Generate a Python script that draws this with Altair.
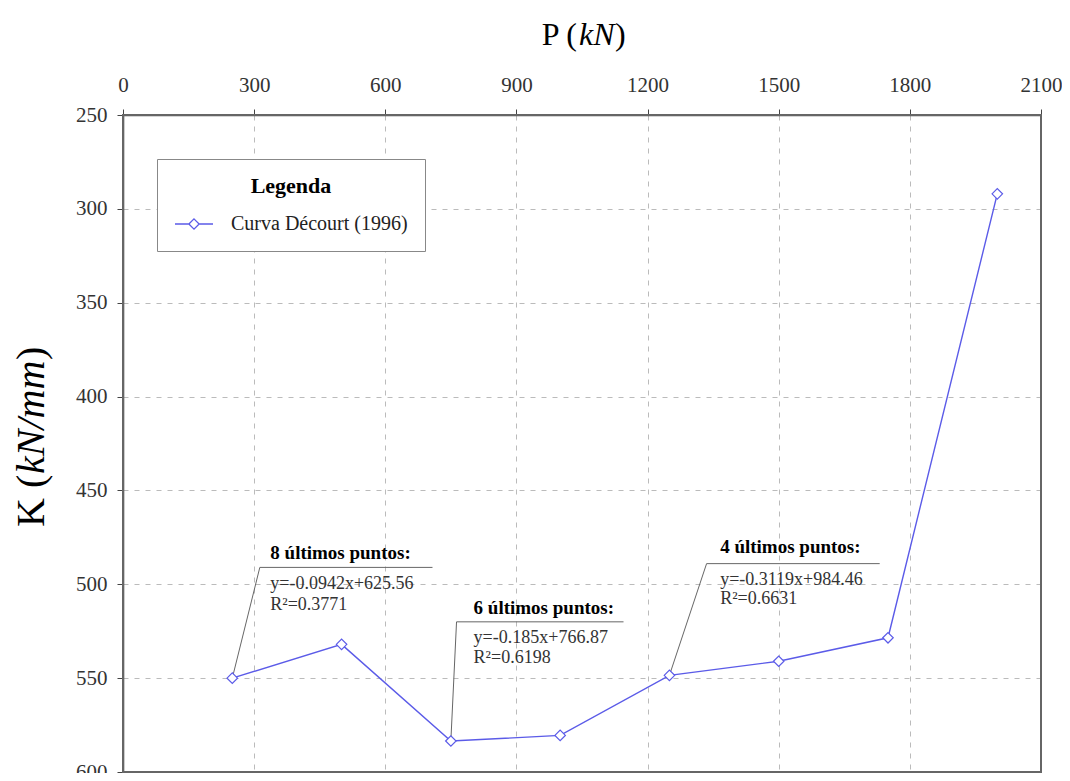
import altair as alt
import pandas as pd

# ---- data ----
P = [250, 500, 750, 1000, 1250, 1500, 1750, 2000]
K = [550, 532, 583.5, 580.5, 548.5, 541, 528.5, 292]
SERIES = "Curva Décourt (1996)"

x_ticks = [0, 300, 600, 900, 1200, 1500, 1800, 2100]
y_ticks = [250, 300, 350, 400, 450, 500, 550, 600]

# callouts (regression notes)
c_title = ["8 últimos puntos:", "6 últimos puntos:", "4 últimos puntos:"]
c_eq = ["y=-0.0942x+625.56", "y=-0.185x+766.87", "y=-0.3119x+984.46"]
c_r2 = ["R²=0.3771", "R²=0.6198", "R²=0.6631"]
c_anchor_idx = [0, 2, 4]
c_corner_x = [313, 763, 1335]
c_corner_y = [491, 520, 489]
c_end_x = [708, 1145, 1731]
c_text_x = [337, 802, 1366]
c_title_y = [483.3, 512.6, 480.0]
c_eq_y = [500.1, 528.5, 497.5]
c_r2_y = [510.8, 539.2, 508.0]

FONT = "Liberation Serif"
W, H = 918, 657

df = pd.DataFrame({"P": P, "K": K, "serie": [SERIES] * len(P)})

leaders = pd.DataFrame({
    "x": c_corner_x,
    "y": c_corner_y,
    "x2": [P[i] for i in c_anchor_idx],
    "y2": [K[i] for i in c_anchor_idx],
})
unders = pd.DataFrame({"x": c_corner_x, "y": c_corner_y, "x2": c_end_x, "y2": c_corner_y})
titles = pd.DataFrame({"x": c_text_x, "y": c_title_y, "t": c_title})
eqs = pd.DataFrame({
    "x": c_text_x * 2,
    "y": c_eq_y + c_r2_y,
    "t": c_eq + c_r2,
})

axis_common = dict(
    title=None, labelFlush=False, labelOverlap=False, format="d",
    domainColor="#555", domainWidth=1.6, tickColor="#444", tickSize=6,
    labelFont=FONT, labelFontSize=21, labelColor="#333",
    grid=True, gridColor="#bbb", gridDash=[5, 6], gridWidth=1,
)
xs = alt.Scale(domain=[0, 2100], nice=False, zero=False)
ys = alt.Scale(domain=[250, 600], nice=False, zero=False, reverse=True)
xa = alt.Axis(orient="top", values=x_ticks, labelPadding=14, **axis_common)
ya = alt.Axis(orient="left", values=y_ticks, labelPadding=10, **axis_common)


def X(f):
    return alt.X(f, type="quantitative", scale=xs, axis=xa)


def Y(f):
    return alt.Y(f, type="quantitative", scale=ys, axis=ya)


legend_symbol = ("M-1,0L-0.27,0M0.27,0L1,0"
                 "M0,-0.27L0.27,0L0,0.27L-0.27,0Z")

line = alt.Chart(df).mark_line(
    strokeWidth=1.4,
    point=alt.OverlayMarkDef(shape="diamond", filled=False, fill="white",
                             size=110, strokeWidth=1.2),
).encode(
    x=X("P"),
    y=Y("K"),
    color=alt.Color(
        "serie:N",
        scale=alt.Scale(domain=[SERIES], range=["#5b5be8"]),
        legend=alt.Legend(
            title="Legenda", orient="none", legendX=34, legendY=44,
            titleFont=FONT, titleFontSize=22, titleFontWeight="bold",
            titleColor="black", titleAnchor="middle", titlePadding=6,
            labelFont=FONT, labelFontSize=20, labelColor="#222",
            labelLimit=400, labelOffset=17,
            symbolType=legend_symbol, symbolSize=1444,
            symbolStrokeWidth=1.3, symbolFillColor="white",
            strokeColor="#888", fillColor="white", padding=17,
        ),
    ),
)

leader_rules = alt.Chart(leaders).mark_rule(color="#666", strokeWidth=1).encode(
    x=X("x"), y=Y("y"), x2="x2", y2="y2")
under_rules = alt.Chart(unders).mark_rule(color="#666", strokeWidth=1).encode(
    x=X("x"), y=Y("y"), x2="x2", y2="y2")

title_text = alt.Chart(titles).mark_text(
    font=FONT, fontSize=19, fontWeight="bold", color="black",
    align="left", baseline="middle").encode(x=X("x"), y=Y("y"), text="t:N")
eq_text = alt.Chart(eqs).mark_text(
    font=FONT, fontSize=18, color="#333",
    align="left", baseline="middle").encode(x=X("x"), y=Y("y"), text="t:N")

one = pd.DataFrame({"a": [0]})

# plot frame (right and bottom edges like the reference)
frame = alt.Chart(one).mark_rect(filled=False, stroke="#666", strokeWidth=2).encode(
    x=alt.value(0), x2=alt.value(W), y=alt.value(0), y2=alt.value(H))


def label(txt, x, y, size, italic=False, angle=0, align="left"):
    kw = dict(font=FONT, fontSize=size, color="black", align=align,
              baseline="middle", angle=angle)
    if italic:
        kw["fontStyle"] = "italic"
    return alt.Chart(one).mark_text(**kw).encode(
        x=alt.value(x), y=alt.value(y), text=alt.value(txt))


# axis titles with italic units
px_title = [
    label("P (", 454, -80, 32, align="right"),
    label("kN", 456, -80, 32, italic=True),
    label(")", 492, -80, 32),
]
ky_title = [
    label("K (", -91, 412, 40, angle=270),
    label("kN/mm", -91, 359, 40, italic=True, angle=270),
    label(")", -91, 245, 40, angle=270),
]

chart = alt.layer(
    frame, leader_rules, under_rules, line, title_text, eq_text,
    *px_title, *ky_title
).properties(
    width=W, height=H,
    padding={"left": 115, "top": 107, "right": 21, "bottom": 1},
    autosize=alt.AutoSizeParams(type="none"),
    background="white",
).configure_view(
    stroke="#666", strokeWidth=2,
)

chart.save("out.html", embed_options={"renderer": "svg", "actions": False})
